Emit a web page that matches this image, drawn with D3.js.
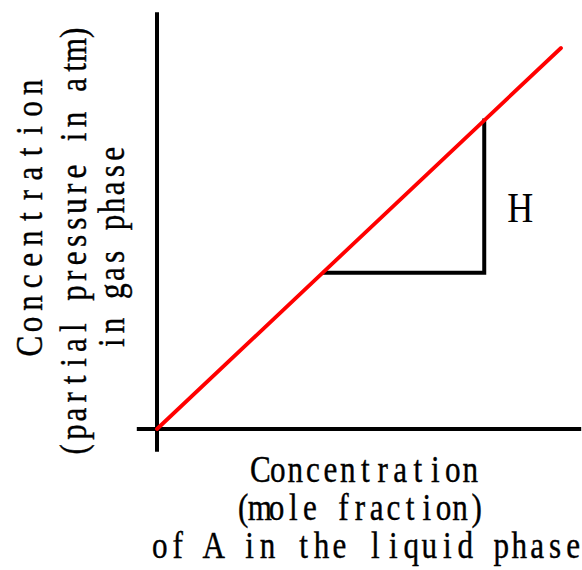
<!DOCTYPE html>
<html>
<head>
<meta charset="utf-8">
<script src="https://cdn.jsdelivr.net/npm/d3@7"></script>
<style>
  html, body { margin: 0; padding: 0; background: #fff; }
  svg { display: block; }
  text { font-family: "Liberation Serif", "DejaVu Serif", serif; fill: #000; }
</style>
</head>
<body>
<svg id="chart" width="582" height="570"></svg>
<script>
// ---- data ----
const xDomain = [0, 1];
const yDomain = [0, 1];
const xAxisExtent = [-0.05, 1.05];
const yAxisExtent = [-0.06, 1.094];
const henryX = [0, 1];
const henryY = [0, 1];
const slopeX = [0.41, 0.81, 0.81];
const slopeY = [0.41, 0.41, 0.815];
const slopeLabel = "H";
const xLabelLines = ["Concentration", "(mole fraction)", "of A in the liquid phase"];
const yLabelLines = ["Concentration", "(partial pressure in atm)", "in gas phase"];

// ---- drawing ----
const svg = d3.select("#chart");
const x = d3.scaleLinear().domain(xDomain).range([157, 561]);
const y = d3.scaleLinear().domain(yDomain).range([429, 48]);

const FONT_SIZE = 38;
const SX = 0.82; // horizontal glyph compression (SimSun-like half-width look)

// measure glyph widths
const meas = svg.append("text").style("font-size", FONT_SIZE + "px").attr("x", -1000).attr("y", -1000);
const widthCache = {};
function gw(ch) {
  if (ch === " ") return FONT_SIZE * 0.25;
  if (!(ch in widthCache)) { meas.text(ch); widthCache[ch] = meas.node().getComputedTextLength(); }
  return widthCache[ch];
}

// draws a monospaced line: ink span `span` (screen px) centred on (cx, by), rotation rot
function monoLine(str, cx, by, span, rot) {
  const chars = Array.from(str);
  const n = chars.length;
  const wf = gw(chars[0]) * SX, wl = gw(chars[n - 1]) * SX;
  const a = (span - (wf + wl) / 2) / (n - 1); // screen advance
  const startCenter = -span / 2 + wf / 2;     // screen centre of first glyph
  const xs = chars.map((c, i) => ((startCenter + i * a) / SX) - gw(c) / 2);
  return svg.append("text")
    .attr("transform", `translate(${cx},${by}) rotate(${rot}) scale(${SX},1)`)
    .style("font-size", FONT_SIZE + "px")
    .attr("stroke", "#000").attr("stroke-width", 0.4)
    .attr("x", xs.map(v => v.toFixed(2)).join(" "))
    .attr("y", 0)
    .text(str);
}

// axes
svg.append("line")
  .attr("x1", x(0)).attr("x2", x(0))
  .attr("y1", y(yAxisExtent[0])).attr("y2", y(yAxisExtent[1]))
  .attr("stroke", "#000").attr("stroke-width", 4);
svg.append("line")
  .attr("x1", x(xAxisExtent[0])).attr("x2", x(xAxisExtent[1]))
  .attr("y1", y(0)).attr("y2", y(0))
  .attr("stroke", "#000").attr("stroke-width", 4);

// slope triangle
const tri = slopeX.map((d, i) => [d, slopeY[i]]);
svg.append("path")
  .attr("d", d3.line().x(d => x(d[0])).y(d => y(d[1]))(tri))
  .attr("fill", "none").attr("stroke", "#000").attr("stroke-width", 4)
  .attr("stroke-linejoin", "miter");

// Henry's law line
const hl = henryX.map((d, i) => [d, henryY[i]]);
svg.append("path")
  .attr("d", d3.line().x(d => x(d[0])).y(d => y(d[1]))(hl))
  .attr("fill", "none").attr("stroke", "#ff0000").attr("stroke-width", 3.8)
  .attr("stroke-linecap", "round");

// H label
const hx = x(slopeX[2]) + 36;
const hy = (y(slopeY[1]) + y(slopeY[2])) / 2 + 26;
svg.append("text")
  .attr("x", hx).attr("y", hy)
  .attr("text-anchor", "middle")
  .style("font-size", "43px")
  .attr("textLength", 26).attr("lengthAdjust", "spacingAndGlyphs")
  .text(slopeLabel);

// x label
const xLabelPos = [{cx: 364, by: 482, span: 228}, {cx: 360, by: 520, span: 244}, {cx: 366, by: 558, span: 428}];
xLabelLines.forEach((t, i) => monoLine(t, xLabelPos[i].cx, xLabelPos[i].by, xLabelPos[i].span, 0));

// y label (rotated)
const yLabelPos = [{cy: 218, bx: 42, span: 277}, {cy: 241, bx: 86, span: 427}, {cy: 247, bx: 124, span: 200}];
yLabelLines.forEach((t, i) => monoLine(t, yLabelPos[i].bx, yLabelPos[i].cy, yLabelPos[i].span, -90));

meas.remove();
</script>
</body>
</html>
